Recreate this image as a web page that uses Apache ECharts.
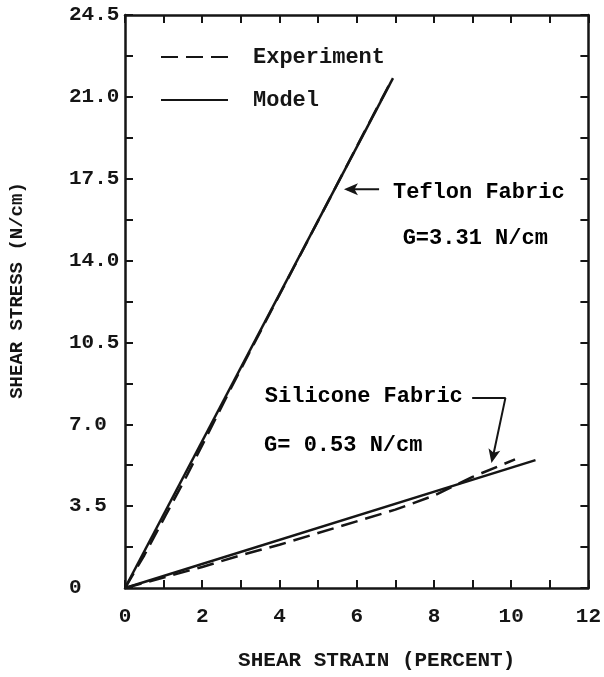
<!DOCTYPE html>
<html>
<head>
<meta charset="utf-8">
<script src="https://cdn.jsdelivr.net/npm/echarts@6/dist/echarts.min.js"></script>
<style>
html,body{margin:0;padding:0;background:#fff;}
#c{width:604px;height:677px;}
</style>
</head>
<body>
<div id="c"></div>
<script>
// ---- data ----
var xTicks = [0, 2, 4, 6, 8, 10, 12];
var yTicks = [0, 3.5, 7.0, 10.5, 14.0, 17.5, 21.0, 24.5];

var teflonModelX = [0, 6.94];
var teflonModelY = [0, 21.8];
var teflonExpX = [0, 0.5, 1.05, 1.6, 2.15, 2.7, 3.2, 3.8, 4.4, 5.0, 5.6, 6.2, 6.9];
var teflonExpY = [0, 1.4, 3.1, 4.8, 6.6, 8.4, 10.0, 11.9, 13.8, 15.7, 17.6, 19.5, 21.7];

var siliconeModelX = [0, 10.63];
var siliconeModelY = [0, 5.47];
var siliconeExpX = [0, 1, 2, 3, 4, 5, 6, 7, 8, 9, 10.1];
var siliconeExpY = [0, 0.45, 0.9, 1.4, 1.85, 2.35, 2.85, 3.35, 3.95, 4.75, 5.5];

var noteTexts = ['Teflon Fabric', 'G=3.31 N/cm', 'Silicone Fabric', 'G= 0.53 N/cm'];
var noteX = [6.94, 7.19, 3.62, 3.6];
var noteY = [16.9, 14.96, 8.2, 6.11];

var teflonArrowX = [6.58, 5.75];
var teflonArrowY = [17.05, 17.05];
var siliconeArrowX = [8.99, 9.85, 9.52];
var siliconeArrowY = [8.12, 8.12, 5.55];
var arrowTipX = [5.67, 9.49];
var arrowTipY = [17.05, 5.34];
var arrowTipAngle = [90, 168];

function zip(xs, ys) { return xs.map(function (x, i) { return [x, ys[i]]; }); }

var ink = '#151515';
var mono = "'Liberation Mono', 'DejaVu Sans Mono', monospace";

var chart = echarts.init(document.getElementById('c'));

function axisCommon() {
  return {
    axisLine: { show: true, onZero: false, lineStyle: { color: ink, width: 2.5 } },
    axisTick: { show: true, inside: true, length: 8, lineStyle: { color: ink, width: 2 } },
    minorTick: { show: true, splitNumber: 2, length: 8, lineStyle: { color: ink, width: 2 } },
    splitLine: { show: false },
    minorSplitLine: { show: false }
  };
}

var xBottom = Object.assign(axisCommon(), {
  type: 'value', position: 'bottom', min: 0, max: 12, interval: 2,
  name: 'SHEAR STRAIN (PERCENT)', nameLocation: 'middle', nameGap: 62,
  nameTextStyle: { fontFamily: mono, fontWeight: 'bold', fontSize: 21, color: ink, padding: [0, 0, 0, 40] },
  axisLabel: { show: true, margin: 18, fontFamily: mono, fontWeight: 'bold', fontSize: 21, color: ink,
    formatter: function (v) { return xTicks.indexOf(v) >= 0 ? String(v) : ''; } }
});
var xTop = Object.assign(axisCommon(), {
  type: 'value', position: 'top', min: 0, max: 12, interval: 2, axisLabel: { show: false }
});
var yLeft = Object.assign(axisCommon(), {
  type: 'value', position: 'left', min: 0, max: 24.5, interval: 3.5,
  name: 'SHEAR STRESS (N/cm)', nameLocation: 'middle', nameGap: 98, nameRotate: 90,
  nameTextStyle: { fontFamily: mono, fontWeight: 'bold', fontSize: 19, color: ink, padding: [0, 0, 0, 22] },
  axisLabel: { show: true, margin: 56, align: 'left', fontFamily: mono, fontWeight: 'bold', fontSize: 21, color: ink,
    formatter: function (v) {
      var i = yTicks.indexOf(v);
      if (i < 0) return '';
      return v === 0 ? '0' : v.toFixed(1);
    } }
});
var yRight = Object.assign(axisCommon(), {
  type: 'value', position: 'right', min: 0, max: 24.5, interval: 3.5, axisLabel: { show: false }
});

var dashStyle = { color: ink, width: 2.5, type: [17, 8] };
var solidStyle = { color: ink, width: 2.5, type: 'solid' };

var option = {
  backgroundColor: '#fff',
  animation: false,
  color: [ink],
  grid: { left: 118, right: 12, top: 15, bottom: 89, containLabel: false },
  xAxis: [xBottom, xTop],
  yAxis: [yLeft, yRight],
  legend: {
    orient: 'vertical', left: 155, top: 41,
    itemWidth: 67, itemHeight: 14, itemGap: 21,
    data: ['Experiment', 'Model'],
    itemStyle: { opacity: 0 },
    textStyle: { fontFamily: mono, fontWeight: 'bold', fontSize: 22, color: ink, padding: [0, 0, 0, 20] }
  },
  series: [
    { name: 'Experiment', type: 'line', symbol: 'none', data: zip(teflonExpX, teflonExpY), lineStyle: dashStyle, itemStyle: { color: ink } },
    { name: 'Model', type: 'line', symbol: 'none', data: zip(teflonModelX, teflonModelY), lineStyle: solidStyle, itemStyle: { color: ink } },
    { name: 'Experiment', type: 'line', symbol: 'none', data: zip(siliconeExpX, siliconeExpY), lineStyle: dashStyle, itemStyle: { color: ink } },
    { name: 'Model', type: 'line', symbol: 'none', data: zip(siliconeModelX, siliconeModelY), lineStyle: solidStyle, itemStyle: { color: ink } },
    {
      name: 'notes', type: 'scatter', symbolSize: 0, silent: true,
      itemStyle: { opacity: 1, color: ink },
      data: noteTexts.map(function (t, i) { return [noteX[i], noteY[i], t]; }),
      label: {
        show: true, position: [0, 0], align: 'left', verticalAlign: 'middle', opacity: 1,
        fontFamily: mono, fontWeight: 'bold', fontSize: 22, color: '#000',
        formatter: function (p) { return p.value[2]; }
      }
    },
    { name: 'arrow1', type: 'line', symbol: 'none', silent: true, data: zip(teflonArrowX, teflonArrowY), lineStyle: { color: ink, width: 2 } },
    { name: 'arrow2', type: 'line', symbol: 'none', silent: true, data: zip(siliconeArrowX, siliconeArrowY), lineStyle: { color: ink, width: 2 } },
    {
      name: 'arrowheads', type: 'scatter', silent: true, symbol: 'arrow', symbolSize: [9, 14],
      symbolOffset: [0, 0],
      itemStyle: { color: ink, opacity: 1 },
      data: arrowTipX.map(function (x, i) { return { value: [x, arrowTipY[i]], symbolRotate: arrowTipAngle[i] }; })
    }
  ]
};
chart.setOption(option);
</script>
</body>
</html>
